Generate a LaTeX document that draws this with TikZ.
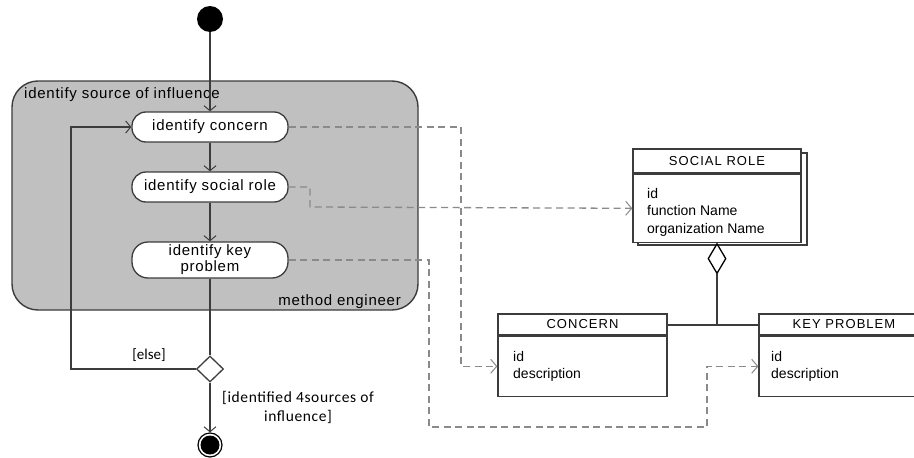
\documentclass[tikz,border=0pt]{standalone}
\usepackage{fontspec}
\setmainfont{Liberation Sans}
\newfontfamily\guardfont{Carlito}
\usetikzlibrary{arrows.meta,shapes.geometric}

\definecolor{linegray}{HTML}{3C3C3C}
\definecolor{depgray}{HTML}{8A8A8A}
\definecolor{regionfill}{HTML}{C0C0C0}

\tikzset{
  flowfont/.style={font=\fontsize{15}{17}\selectfont\addfontfeature{LetterSpace=5}},
  flow/.style={draw=linegray, line width=1.3pt, -{Straight Barb[length=5pt,width=12pt,line width=1pt]}},
  plainflow/.style={draw=linegray, line width=1.3pt},
  dep/.style={draw=depgray, line width=1.3pt, dash pattern=on 7pt off 4.5pt,
              -{Straight Barb[length=6pt,width=14pt,line width=1pt]}},
  region/.style={draw=linegray, fill=regionfill, line width=1.4pt, rounded corners=26pt},
  action/.style={draw=linegray, fill=white, line width=1.3pt, rectangle,
                 rounded corners=14pt, minimum width=156pt, minimum height=30pt,
                 inner sep=0pt, align=center, flowfont},
  initial/.style={circle, fill=black, minimum size=26pt, inner sep=0pt},
  final/.style={circle, draw=black, line width=1.2pt, fill=white, minimum size=24pt, inner sep=0pt,
                path picture={\fill[black] (path picture bounding box.center) circle (9.5pt);}},
  decision/.style={diamond, draw=linegray, fill=white, line width=1.3pt,
                   minimum width=27pt, minimum height=26pt, inner sep=0pt},
  enthead/.style={rectangle, draw=linegray, fill=white, line width=1.3pt, inner sep=0pt,
                  font=\fontsize{13}{15}\selectfont\addfontfeature{LetterSpace=8}},
  entbody/.style={rectangle, draw=linegray, fill=white, line width=1.3pt, inner sep=0pt},
  attrs/.style={inner sep=0pt, align=left, font=\fontsize{14}{17.5}\selectfont},
  guard/.style={inner sep=0pt, align=center, font=\guardfont\fontsize{15.5}{19}\selectfont\addfontfeature{LetterSpace=4}},
  agg/.style={diamond, draw=black, fill=white, line width=1.3pt, minimum width=18pt,
              minimum height=30pt, inner sep=0pt},
  assoc/.style={draw=linegray, line width=2pt}
}

\begin{document}
\begin{tikzpicture}[x=1pt,y=-1pt]
\useasboundingbox (0,0) rectangle (914,458);

% activity partition
\draw[region] (12,81) rectangle (418,310);
\node[anchor=west, inner sep=0pt, flowfont] (regiontitle) at (24,95) {identify source of influence};
\node[anchor=east, inner sep=0pt, flowfont] (performer) at (401,302) {method engineer};

% activity nodes
\node[initial] (start) at (210,19) {};
\node[action] (concern) at (210,127) {identify concern};
\node[action] (socialrole) at (210,187) {identify social role};
\node[action, minimum height=36pt, rounded corners=16pt] (keyproblem) at (210,260)
  {identify key\\[-1pt]problem};
\node[decision] (choice) at (210,369) {};
\node[final] (end) at (210,445) {};

% control flow
\draw[flow] (start) -- (concern);
\draw[flow] (concern) -- (socialrole);
\draw[flow] (socialrole) -- (keyproblem);
\draw[plainflow] (keyproblem) -- (choice);
\draw[flow] (choice) -- (end);
\coordinate (loopcorner) at (71,369);
\draw[flow] (choice.west) -- (loopcorner) |- (concern.west);

\node[guard, font=\guardfont\fontsize{15}{18}\selectfont] (elseguard) at (149,355) {[else]};
\node[guard] (doneguard) at (298,407) {[identified 4sources of\\influence]};

% entities
\draw[draw=linegray, fill=white, line width=1.3pt] (638,153) rectangle (807,245);
\node[enthead, minimum width=168pt, minimum height=24pt] (srhead) at (717,161) {SOCIAL ROLE};
\node[entbody, minimum width=168pt, minimum height=68pt, anchor=north] (srbody) at (srhead.south) {};
\node[attrs, anchor=north west] (srattrs) at (647,188) {id\\function Name\\organization Name};

\node[enthead, minimum width=169pt, minimum height=21pt] (cnhead) at (582.5,324.5) {CONCERN};
\node[entbody, minimum width=169pt, minimum height=60pt, anchor=north] (cnbody) at (cnhead.south) {};
\node[attrs, anchor=north west] (cnattrs) at (513,351) {id\\description};

\node[enthead, minimum width=170pt, minimum height=21pt] (kphead) at (844,324.5) {KEY PROBLEM};
\node[entbody, minimum width=170pt, minimum height=60pt, anchor=north] (kpbody) at (kphead.south) {};
\node[attrs, anchor=north west] (kpattrs) at (771,351) {id\\description};

% aggregation
\node[agg, anchor=north] (aggdiamond) at (srbody.south) {};
\coordinate (junction) at (aggdiamond.south |- cnhead.east);
\draw[assoc] (aggdiamond.south) -- (junction);
\draw[assoc] (cnhead.east) -- (kphead.west);

% object flows
\coordinate (cnbend) at (461,127);
\draw[dep] (concern.east) -- (cnbend) |- (cnbody.west);
\coordinate (srbendA) at (310,187);
\coordinate (srbendB) at (310,207);
\draw[dep] (socialrole.east) -- (srbendA) -- (srbendB) -- (srbody.west);
\coordinate (kpbendA) at (429,260);
\coordinate (kpbendB) at (429,427);
\coordinate (kpbendC) at (707,427);
\draw[dep] (keyproblem.east) -- (kpbendA) -- (kpbendB) -- (kpbendC) |- (kpbody.west);
\end{tikzpicture}
\end{document}
